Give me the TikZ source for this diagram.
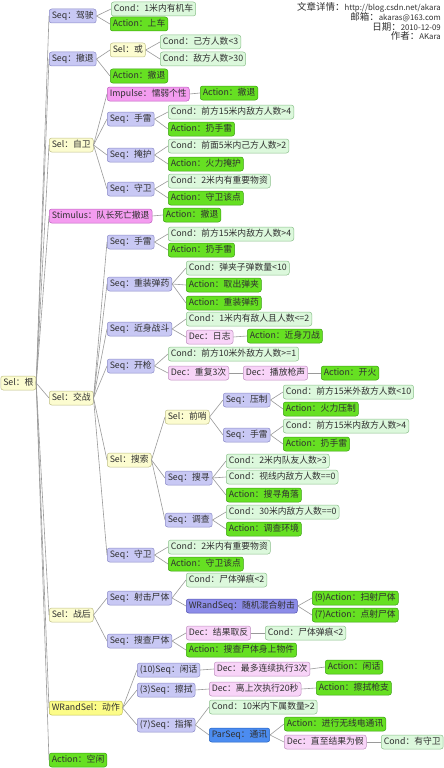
\documentclass[tikz,border=0pt]{standalone}
\usepackage{fontspec}
\setmainfont{Noto Sans CJK SC}
\definecolor{seqf}{HTML}{C8C8F4}\definecolor{seqd}{HTML}{8A8AC8}
\definecolor{condf}{HTML}{DCF8DC}\definecolor{condd}{HTML}{8CC08C}
\definecolor{actf}{HTML}{66E022}\definecolor{actd}{HTML}{3AA010}
\definecolor{self}{HTML}{FCFCD0}\definecolor{seld}{HTML}{C0C088}
\definecolor{impf}{HTML}{F49CF0}\definecolor{impd}{HTML}{C060C0}
\definecolor{decf}{HTML}{F8D4F8}\definecolor{decd}{HTML}{C090C0}
\definecolor{wseqf}{HTML}{8C8CE8}\definecolor{wseqd}{HTML}{5050B0}
\definecolor{wself}{HTML}{FCFC88}\definecolor{wseld}{HTML}{C0C050}
\definecolor{parf}{HTML}{4C8CF0}\definecolor{pard}{HTML}{2060C0}
\definecolor{edgec}{HTML}{9A9A9A}
\definecolor{txt}{HTML}{303030}
\tikzset{
  box/.style={rounded corners=2.5pt, draw, line width=0.5pt, text=txt,
    font=\fontsize{8.8}{10}\selectfont, inner xsep=2.5pt, inner ysep=0pt,
    text height=7pt, text depth=2pt, minimum height=14pt, anchor=west},
  seqn/.style={box, fill=seqf, draw=seqd},
  condn/.style={box, fill=condf, draw=condd},
  actn/.style={box, fill=actf, draw=actd},
  seln/.style={box, fill=self, draw=seld},
  impn/.style={box, fill=impf, draw=impd},
  decn/.style={box, fill=decf, draw=decd},
  wseqn/.style={box, fill=wseqf, draw=wseqd},
  wseln/.style={box, fill=wself, draw=wseld},
  parn/.style={box, fill=parf, draw=pard},
  edge/.style={draw=edgec, line width=0.6pt},
  info/.style={anchor=east, inner sep=0pt, text=txt, font=\fontsize{9.5}{10}\selectfont}
}
\newcommand{\sm}[1]{{\fontsize{7.8}{8}\selectfont #1}}
\begin{document}
\begin{tikzpicture}[x=1pt,y=-1pt]
\useasboundingbox[fill=white] (0,0) rectangle (444,768);
% info text
\node[info] (i1) at (441,7) {文章详情：\sm{http://blog.csdn.net/akara}};
\node[info] (i2) at (441,17) {邮箱：\sm{akaras@163.com}};
\node[info] (i3) at (441,26.5) {日期：\sm{2010-12-09}};
\node[info] (i4) at (441,36) {作者：\sm{AKara}};
% root
\node[seln] (root) at (0.5,383) {Sel：根};
% level 1
\node[seqn] (a1) at (49,16) {Seq：驾驶};
\node[seqn] (a2) at (49,59) {Seq：撤退};
\node[seln] (a3) at (49,145) {Sel：自卫};
\node[impn] (a4) at (49,216) {Stimulus：队长死亡撤退};
\node[seln] (a5) at (49,398) {Sel：交战};
\node[seln] (a6) at (49,615) {Sel：战后};
\node[wseln] (a7) at (49,708) {WRandSel：动作};
\node[actn] (a8) at (49,760) {Action：空闲};
\foreach \n in {a1,a2,a3,a4,a5,a6,a7,a8} \draw[edge] (root.east) -- (\n.west);
% a1
\node[condn] (b11) at (111,9) {Cond：1米内有机车};
\node[actn] (b12) at (110,24) {Action：上车};
\draw[edge] (a1.east) -- (b11.west); \draw[edge] (a1.east) -- (b12.west);
% a2
\node[seln] (b21) at (110,50) {Sel：或};
\node[condn] (c211) at (160,42) {Cond：己方人数<3};
\node[condn] (c212) at (160,59) {Cond：敌方人数>30};
\node[actn] (b22) at (110,76) {Action：撤退};
\draw[edge] (a2.east) -- (b21.west); \draw[edge] (a2.east) -- (b22.west);
\draw[edge] (b21.east) -- (c211.west); \draw[edge] (b21.east) -- (c212.west);
% a3
\node[impn] (b31) at (107,94) {Impulse：懦弱个性};
\node[actn] (c311) at (200,93) {Action：撤退};
\node[seqn] (b32) at (107,119) {Seq：手雷};
\node[condn] (c321) at (168,112) {Cond：前方15米内敌方人数>4};
\node[actn] (c322) at (168,129) {Action：扔手雷};
\node[seqn] (b33) at (107,155) {Seq：掩护};
\node[condn] (c331) at (168,146) {Cond：前面5米内己方人数>2};
\node[actn] (c332) at (168,164) {Action：火力掩护};
\node[seqn] (b34) at (107,189) {Seq：守卫};
\node[condn] (c341) at (168,181) {Cond：2米内有重要物资};
\node[actn] (c342) at (168,198) {Action：守卫该点};
\foreach \n in {b31,b32,b33,b34} \draw[edge] (a3.east) -- (\n.west);
\draw[edge] (b31.east) -- (c311.west);
\draw[edge] (b32.east) -- (c321.west); \draw[edge] (b32.east) -- (c322.west);
\draw[edge] (b33.east) -- (c331.west); \draw[edge] (b33.east) -- (c332.west);
\draw[edge] (b34.east) -- (c341.west); \draw[edge] (b34.east) -- (c342.west);
% a4
\node[actn] (b41) at (163,215) {Action：撤退};
\draw[edge] (a4.east) -- (b41.west);
% a5
\node[seqn] (b51) at (107,242) {Seq：手雷};
\node[condn] (c511) at (168,234) {Cond：前方15米内敌方人数>4};
\node[actn] (c512) at (168,250) {Action：扔手雷};
\node[seqn] (b52) at (107,284) {Seq：重装弹药};
\node[condn] (c521) at (186,268) {Cond：弹夹子弹数量<10};
\node[actn] (c522) at (186,285) {Action：取出弹夹};
\node[actn] (c523) at (186,303) {Action：重装弹药};
\node[seqn] (b53) at (107,329) {Seq：近身战斗};
\node[condn] (c531) at (186,319) {Cond：1米内有敌人且人数<=2};
\node[decn] (c532) at (186,337) {Dec：日志};
\node[actn] (d5321) at (247,336) {Action：近身刀战};
\node[seqn] (b54) at (107,366) {Seq：开枪};
\node[condn] (c541) at (168,354) {Cond：前方10米外敌方人数>=1};
\node[decn] (c542) at (168,373) {Dec：重复3次};
\node[decn] (d5421) at (243,373) {Dec：播放枪声};
\node[actn] (e5421) at (321,373) {Action：开火};
\node[seln] (b55) at (107,460) {Sel：搜索};
\node[seln] (c551) at (165,417) {Sel：前哨};
\node[seqn] (d5511) at (223,400) {Seq：压制};
\node[condn] (e5511) at (283,392) {Cond：前方15米外敌方人数<10};
\node[actn] (e5512) at (283,409) {Action：火力压制};
\node[seqn] (d5512) at (223,435) {Seq：手雷};
\node[condn] (e5513) at (283,426) {Cond：前方15米内敌方人数>4};
\node[actn] (e5514) at (283,444) {Action：扔手雷};
\node[seqn] (c552) at (165,478) {Seq：搜寻};
\node[condn] (d5521) at (226,461) {Cond：2米内队友人数>3};
\node[condn] (d5522) at (226,477) {Cond：视线内敌方人数==0};
\node[actn] (d5523) at (226,495) {Action：搜寻角落};
\node[seqn] (c553) at (165,520) {Seq：调查};
\node[condn] (d5531) at (226,512) {Cond：30米内敌方人数==0};
\node[actn] (d5532) at (226,529) {Action：调查环境};
\node[seqn] (b56) at (107,555) {Seq：守卫};
\node[condn] (c561) at (168,547) {Cond：2米内有重要物资};
\node[actn] (c562) at (168,564) {Action：守卫该点};
\foreach \n in {b51,b52,b53,b54,b55,b56} \draw[edge] (a5.east) -- (\n.west);
\draw[edge] (b51.east) -- (c511.west); \draw[edge] (b51.east) -- (c512.west);
\foreach \n in {c521,c522,c523} \draw[edge] (b52.east) -- (\n.west);
\draw[edge] (b53.east) -- (c531.west); \draw[edge] (b53.east) -- (c532.west);
\draw[edge] (c532.east) -- (d5321.west);
\draw[edge] (b54.east) -- (c541.west); \draw[edge] (b54.east) -- (c542.west);
\draw[edge] (c542.east) -- (d5421.west); \draw[edge] (d5421.east) -- (e5421.west);
\foreach \n in {c551,c552,c553} \draw[edge] (b55.east) -- (\n.west);
\draw[edge] (c551.east) -- (d5511.west); \draw[edge] (c551.east) -- (d5512.west);
\draw[edge] (d5511.east) -- (e5511.west); \draw[edge] (d5511.east) -- (e5512.west);
\draw[edge] (d5512.east) -- (e5513.west); \draw[edge] (d5512.east) -- (e5514.west);
\foreach \n in {d5521,d5522,d5523} \draw[edge] (c552.east) -- (\n.west);
\draw[edge] (c553.east) -- (d5531.west); \draw[edge] (c553.east) -- (d5532.west);
\draw[edge] (b56.east) -- (c561.west); \draw[edge] (b56.east) -- (c562.west);
% a6
\node[seqn] (b61) at (107,598) {Seq：射击尸体};
\node[condn] (c611) at (186,580) {Cond：尸体弹痕<2};
\node[wseqn] (c612) at (186,606) {WRandSeq：随机混合射击};
\node[actn] (d6121) at (312,598) {(9)Action：扫射尸体};
\node[actn] (d6122) at (312,615) {(7)Action：点射尸体};
\node[seqn] (b62) at (107,641) {Seq：搜查尸体};
\node[decn] (c621) at (186,633) {Dec：结果取反};
\node[condn] (d6211) at (265,633) {Cond：尸体弹痕<2};
\node[actn] (c622) at (186,650) {Action：搜查尸体身上物件};
\draw[edge] (a6.east) -- (b61.west); \draw[edge] (a6.east) -- (b62.west);
\draw[edge] (b61.east) -- (c611.west); \draw[edge] (b61.east) -- (c612.west);
\draw[edge] (c612.east) -- (d6121.west); \draw[edge] (c612.east) -- (d6122.west);
\draw[edge] (b62.east) -- (c621.west); \draw[edge] (b62.east) -- (c622.west);
\draw[edge] (c621.east) -- (d6211.west);
% a7
\node[seqn] (b71) at (137,670) {(10)Seq：闲话};
\node[decn] (c711) at (214,669) {Dec：最多连续执行3次};
\node[actn] (d7111) at (325,667) {Action：闲话};
\node[seqn] (b72) at (137,690) {(3)Seq：擦拭};
\node[decn] (c721) at (209,689) {Dec：离上次执行20秒};
\node[actn] (d7211) at (316,688) {Action：擦拭枪支};
\node[seqn] (b73) at (137,725) {(7)Seq：指挥};
\node[condn] (c731) at (209,707) {Cond：10米内下属数量>2};
\node[parn] (c732) at (209,735) {ParSeq：通讯};
\node[actn] (d7321) at (284,724) {Action：进行无线电通讯};
\node[decn] (d7322) at (284,742) {Dec：直至结果为假};
\node[condn] (e7322) at (381,742) {Cond：有守卫};
\foreach \n in {b71,b72,b73} \draw[edge] (a7.east) -- (\n.west);
\draw[edge] (b71.east) -- (c711.west); \draw[edge] (c711.east) -- (d7111.west);
\draw[edge] (b72.east) -- (c721.west); \draw[edge] (c721.east) -- (d7211.west);
\draw[edge] (b73.east) -- (c731.west); \draw[edge] (b73.east) -- (c732.west);
\draw[edge] (c732.east) -- (d7321.west); \draw[edge] (c732.east) -- (d7322.west);
\draw[edge] (d7322.east) -- (e7322.west);
\end{tikzpicture}
\end{document}
